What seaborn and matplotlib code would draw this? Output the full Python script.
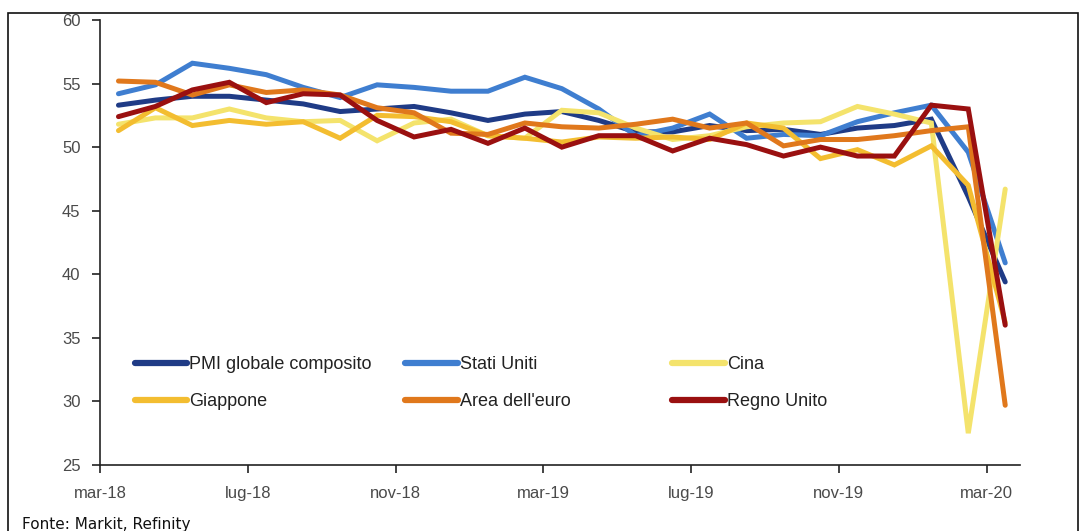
import matplotlib
matplotlib.use("Agg")
import matplotlib.pyplot as plt
import seaborn as sns
import pandas as pd
from matplotlib.patches import Rectangle

# ---- data -------------------------------------------------------------
months = ["mar-18", "apr-18", "mag-18", "giu-18", "lug-18", "ago-18", "set-18",
          "ott-18", "nov-18", "dic-18", "gen-19", "feb-19", "mar-19", "apr-19",
          "mag-19", "giu-19", "lug-19", "ago-19", "set-19", "ott-19", "nov-19",
          "dic-19", "gen-20", "feb-20", "mar-20"]

pmi_globale = [53.3, 53.7, 54.0, 54.0, 53.7, 53.4, 52.8, 53.0, 53.2, 52.7, 52.1, 52.6,
               52.8, 52.1, 51.2, 51.2, 51.7, 51.3, 51.4, 51.0, 51.5, 51.7, 52.2, 46.1, 39.4]
stati_uniti = [54.2, 54.9, 56.6, 56.2, 55.7, 54.7, 53.9, 54.9, 54.7, 54.4, 54.4, 55.5,
               54.6, 53.0, 50.9, 51.5, 52.6, 50.7, 51.0, 50.9, 52.0, 52.7, 53.3, 49.6, 40.9]
cina = [51.8, 52.3, 52.3, 53.0, 52.3, 52.0, 52.1, 50.5, 51.9, 52.2, 50.9, 50.7,
        52.9, 52.7, 51.5, 50.6, 50.9, 51.6, 51.9, 52.0, 53.2, 52.6, 51.9, 27.5, 46.7]
giappone = [51.3, 53.1, 51.7, 52.1, 51.8, 52.0, 50.7, 52.5, 52.4, 52.0, 50.9, 50.7,
            50.4, 50.8, 50.7, 50.8, 50.6, 51.9, 51.5, 49.1, 49.8, 48.6, 50.1, 47.0, 36.2]
area_euro = [55.2, 55.1, 54.1, 54.9, 54.3, 54.5, 54.1, 53.1, 52.7, 51.1, 51.0, 51.9,
             51.6, 51.5, 51.8, 52.2, 51.5, 51.9, 50.1, 50.6, 50.6, 50.9, 51.3, 51.6, 29.7]
regno_unito = [52.4, 53.2, 54.5, 55.1, 53.5, 54.2, 54.1, 52.1, 50.8, 51.4, 50.3, 51.5,
               50.0, 50.9, 50.9, 49.7, 50.7, 50.2, 49.3, 50.0, 49.3, 49.3, 53.3, 53.0, 36.0]

series_names = ["PMI globale composito", "Stati Uniti", "Cina",
                "Giappone", "Area dell'euro", "Regno Unito"]
series_values = [pmi_globale, stati_uniti, cina, giappone, area_euro, regno_unito]
colors = ["#1f3b86", "#3f7ed0", "#f4e36c", "#f3bd30", "#e0781c", "#9a1010"]

y_ticks = [25, 30, 35, 40, 45, 50, 55, 60]
x_tick_labels = ["mar-18", "lug-18", "nov-18", "mar-19", "lug-19", "nov-19", "mar-20"]

rows = []
for name, vals in zip(series_names, series_values):
    for i, (m, v) in enumerate(zip(months, vals)):
        rows.append({"idx": i, "mese": m, "serie": name, "valore": v})
df = pd.DataFrame(rows)

# ---- plot -------------------------------------------------------------
sns.set_style("white")
plt.rcParams["font.family"] = ["Liberation Sans Narrow", "Liberation Sans", "DejaVu Sans"]

fig = plt.figure(figsize=(10.82, 5.31), dpi=100)
ax = fig.add_axes([100 / 1082, 66 / 531, 920 / 1082, 445 / 531])

palette = dict(zip(series_names, colors))
sns.lineplot(data=df, x="idx", y="valore", hue="serie", hue_order=series_names,
             palette=palette, linewidth=3.6, legend=False, ax=ax, sort=False)
for ln in ax.lines:
    ln.set_solid_joinstyle("miter")

ax.set_xlim(-0.5, 24.4)
ax.set_ylim(25, 60)
ax.set_yticks(y_ticks)
ax.set_yticklabels([str(t) for t in y_ticks])
xt = [months.index(m) - 0.5 for m in x_tick_labels]
ax.set_xticks(xt)
ax.set_xticklabels(x_tick_labels)
ax.set_xlabel("")
ax.set_ylabel("")

for s in ["top", "right"]:
    ax.spines[s].set_visible(False)
for s in ["left", "bottom"]:
    ax.spines[s].set_color("#222222")
    ax.spines[s].set_linewidth(1.2)
ax.tick_params(axis="both", which="major", direction="out", length=6, width=1.2,
               color="#222222", labelsize=12, labelcolor="#4a4a4a",
               bottom=True, left=True)
ax.tick_params(axis="y", pad=8)
ax.tick_params(axis="x", pad=9)
ax.grid(False)

# legend: three columns of two entries
handles = ax.lines
cols = [(0, 3, 0.038), (1, 4, 0.332), (2, 5, 0.622)]
for k, (a, b, xpos) in enumerate(cols):
    leg = ax.legend([handles[a], handles[b]], [series_names[a], series_names[b]],
                    loc="center left", bbox_to_anchor=(xpos, 0.184), frameon=False,
                    fontsize=13, handlelength=2.9, handletextpad=0.12,
                    labelspacing=1.1, borderpad=0, borderaxespad=0)
    for t in leg.get_texts():
        t.set_color("#222222")
    for h in leg.get_lines():
        h.set_linewidth(4.5)
    if k < 2:
        ax.add_artist(leg)

# outer frame and source note
fig.patches.append(Rectangle((8 / 1082, -0.1), 1070 / 1082, (531 - 13) / 531 + 0.1,
                             transform=fig.transFigure, fill=False,
                             edgecolor="#111111", linewidth=1.2))
fig.text(22 / 1082, 1 - 517 / 531, "Fonte: Markit, Refinity", ha="left", va="top",
         fontsize=11, color="#111111", family=["DejaVu Sans"])

fig.savefig("out.png", dpi=100)
